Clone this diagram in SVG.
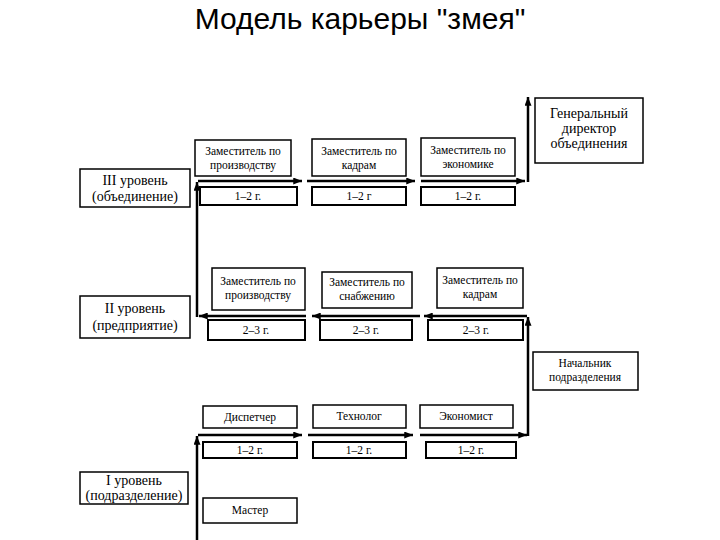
<svg xmlns="http://www.w3.org/2000/svg" width="720" height="540" viewBox="0 0 720 540">
<style>
.box{fill:#fff;stroke:#000;stroke-width:1.5}
.dur{fill:#fff;stroke:#000;stroke-width:2}
.lvl{fill:#fff;stroke:#000;stroke-width:1.5}
.t{font-family:"Liberation Serif","Times New Roman",serif;font-size:11.5px;fill:#000;text-anchor:middle}
.tl{font-family:"Liberation Serif","Times New Roman",serif;font-size:14px;fill:#000;text-anchor:middle}
.c{fill:none;stroke:#000;stroke-width:2.5;marker-end:url(#ah)}
.title{font-family:"Liberation Sans",Arial,sans-serif;font-size:30px;fill:#000;text-anchor:middle}
</style>
<defs>
<marker id="ah" viewBox="0 0 10 8" refX="10" refY="4" markerWidth="9" markerHeight="7" markerUnits="userSpaceOnUse" orient="auto">
<path d="M0,0 L10,4 L0,8 z" fill="#000"/>
</marker>
</defs>
<rect width="720" height="540" fill="#fff"/>
<text class="title" x="360" y="29">Модель карьеры "змея"</text>

<g id="connectors">
<path class="c" d="M197,540 L197,436"/>
<path class="c" d="M198,435 L302,435"/>
<path class="c" d="M308,435 L413,435"/>
<path class="c" d="M420,435 L527,435"/>
<path class="c" d="M528,436 L528,317"/>
<path class="c" d="M527,316 L424,316"/>
<path class="c" d="M420,316 L312,316"/>
<path class="c" d="M306,316 L199,316"/>
<path class="c" d="M197,317 L197,182"/>
<path class="c" d="M198,181 L302,181"/>
<path class="c" d="M307,181 L415,181"/>
<path class="c" d="M421,181 L525,181"/>
<path class="c" d="M528,182 L528,97"/>
</g>

<g id="lvl3">
<rect class="lvl" x="80" y="169" width="110" height="38"/>
<text class="tl" x="135" y="185">III уровень</text>
<text class="tl" x="135" y="201">(объединение)</text>
</g>
<g id="lvl2">
<rect class="lvl" x="80" y="296" width="110" height="42"/>
<text class="tl" x="135" y="313">II уровень</text>
<text class="tl" x="135" y="330">(предприятие)</text>
</g>
<g id="lvl1">
<rect class="lvl" x="80" y="472" width="108" height="32"/>
<text class="tl" x="134" y="485">I уровень</text>
<text class="tl" x="134" y="500">(подразделение)</text>
</g>

<g id="n3a">
<rect class="box" x="195" y="140" width="96" height="36"/>
<text class="t" x="243" y="155">Заместитель по</text>
<text class="t" x="243" y="169">производству</text>
</g>
<g id="d3a"><rect class="dur" x="200" y="187" width="97" height="18"/><text class="t" x="248" y="200">1–2 г.</text></g>
<g id="n3b">
<rect class="box" x="312" y="139" width="94" height="37"/>
<text class="t" x="359" y="155">Заместитель по</text>
<text class="t" x="359" y="169">кадрам</text>
</g>
<g id="d3b"><rect class="dur" x="312" y="187" width="94" height="18"/><text class="t" x="359" y="200">1–2 г</text></g>
<g id="n3c">
<rect class="box" x="421" y="138" width="94" height="38"/>
<text class="t" x="468" y="154">Заместитель по</text>
<text class="t" x="468" y="168">экономике</text>
</g>
<g id="d3c"><rect class="dur" x="421" y="187" width="94" height="18"/><text class="t" x="468" y="200">1–2 г.</text></g>
<g id="gd">
<rect class="box" x="535" y="98" width="108" height="65"/>
<text class="tl" x="589" y="118">Генеральный</text>
<text class="tl" x="589" y="133">директор</text>
<text class="tl" x="589" y="148">объединения</text>
</g>

<g id="n2a">
<rect class="box" x="212" y="268" width="93" height="42"/>
<text class="t" x="258" y="285">Заместитель по</text>
<text class="t" x="258" y="299">производству</text>
</g>
<g id="d2a"><rect class="dur" x="208" y="320" width="97" height="20"/><text class="t" x="256" y="334">2–3 г.</text></g>
<g id="n2b">
<rect class="box" x="322" y="272" width="90" height="36"/>
<text class="t" x="367" y="286">Заместитель по</text>
<text class="t" x="367" y="300">снабжению</text>
</g>
<g id="d2b"><rect class="dur" x="320" y="320" width="92" height="20"/><text class="t" x="366" y="334">2–3 г.</text></g>
<g id="n2c">
<rect class="box" x="437" y="268" width="86" height="40"/>
<text class="t" x="480" y="284">Заместитель по</text>
<text class="t" x="480" y="298">кадрам</text>
</g>
<g id="d2c"><rect class="dur" x="428" y="320" width="95" height="20"/><text class="t" x="476" y="334">2–3 г.</text></g>
<g id="nach">
<rect class="box" x="533" y="352" width="105" height="38"/>
<text class="t" x="585" y="367">Начальник</text>
<text class="t" x="585" y="381">подразделения</text>
</g>

<g id="n1a">
<rect class="box" x="203" y="406" width="94" height="22"/>
<text class="t" x="250" y="421">Диспетчер</text>
</g>
<g id="d1a"><rect class="dur" x="203" y="442" width="94" height="16"/><text class="t" x="250" y="454">1–2 г.</text></g>
<g id="n1b">
<rect class="box" x="313" y="405" width="93" height="23"/>
<text class="t" x="359" y="420">Технолог</text>
</g>
<g id="d1b"><rect class="dur" x="313" y="442" width="93" height="16"/><text class="t" x="359" y="454">1–2 г.</text></g>
<g id="n1c">
<rect class="box" x="420" y="405" width="93" height="23"/>
<text class="t" x="466" y="420">Экономист</text>
</g>
<g id="d1c"><rect class="dur" x="426" y="442" width="90" height="16"/><text class="t" x="471" y="454">1–2 г.</text></g>
<g id="master">
<rect class="box" x="203" y="498" width="94" height="25"/>
<text class="t" x="250" y="514">Мастер</text>
</g>
</svg>
